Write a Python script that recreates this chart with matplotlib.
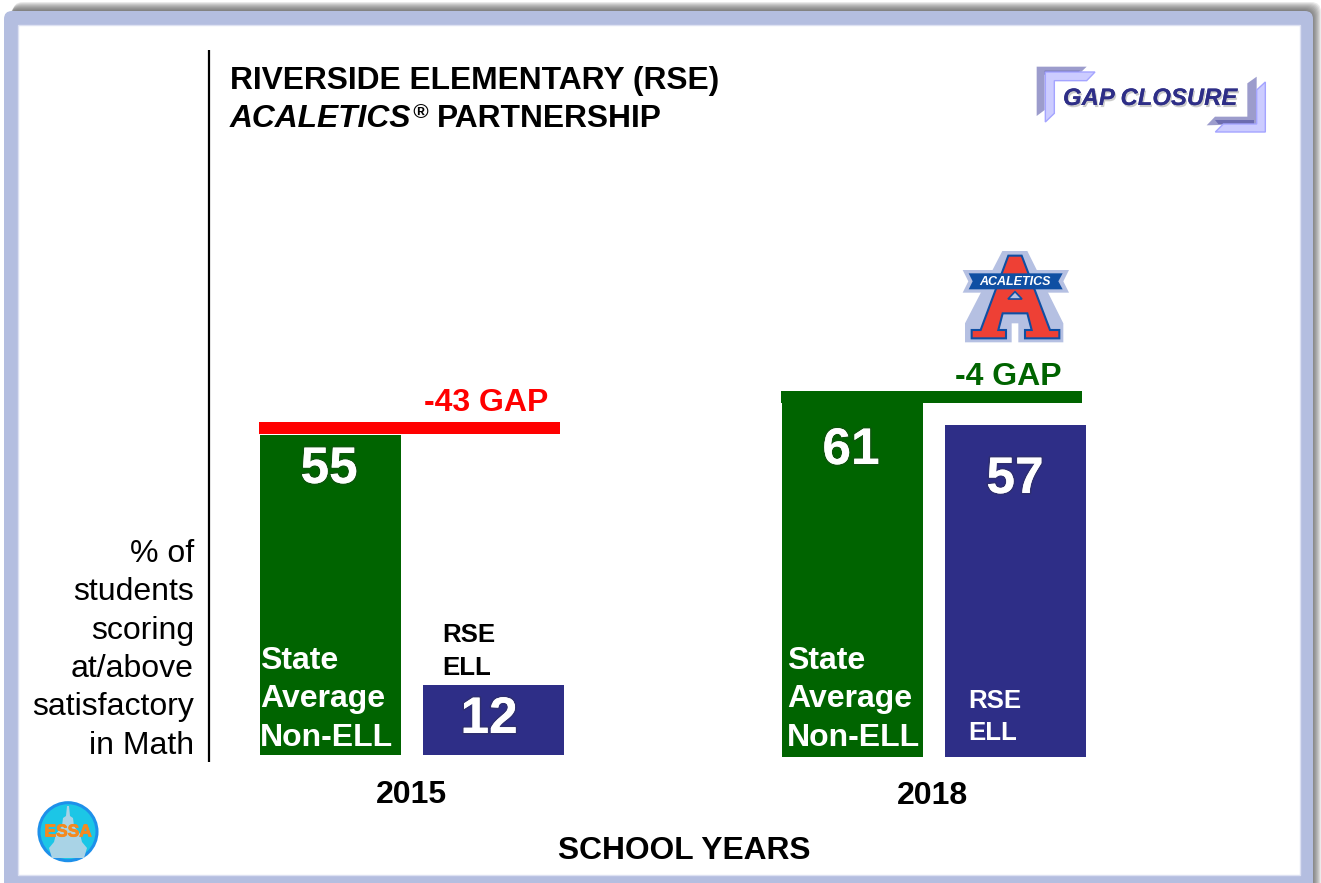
import matplotlib
matplotlib.use("Agg")
import matplotlib.pyplot as plt
from matplotlib.patches import Rectangle, FancyBboxPatch, Polygon, Circle
import matplotlib.patheffects as pe

plt.rcParams['font.family'] = ['Liberation Sans', 'DejaVu Sans']

years = ['2015', '2018']
state_non_ell = [55, 61]
rse_ell = [12, 57]
gaps = ['-43 GAP', '-4 GAP']
gap_colors = ['#FF0000', '#006400']
title_line1 = 'RIVERSIDE ELEMENTARY (RSE)'
ylabel_lines = ['% of', 'students', 'scoring', 'at/above', 'satisfactory', 'in Math']
xlabel = 'SCHOOL YEARS'

W, H = 1321, 883
GREEN, NAVY = '#006400', '#2E2E87'
FRAME = '#B4BEE0'
fig = plt.figure(figsize=(W / 100, H / 100), dpi=100, facecolor='white')

# pixel overlay (background)
bg = fig.add_axes([0, 0, 1, 1], zorder=0)
bg.set_xlim(0, W); bg.set_ylim(H, 0); bg.axis('off')
for i in range(9):
    x0 = 13 - i * 0.6
    bg.add_patch(FancyBboxPatch((x0, 2 + i), (W - i) - x0, 890,
                 boxstyle='round,pad=0,rounding_size=10', fc='#444444', ec='none', alpha=0.11))
bg.add_patch(FancyBboxPatch((4, 11), 1309, 890, boxstyle='round,pad=0,rounding_size=8',
                            fc=FRAME, ec='none'))
bg.add_patch(Rectangle((18, 25), 1282, 850, fc='white', ec='#DDE1F2', lw=1))
bg.plot([209, 209], [50, 762], color='black', lw=1.6, solid_capstyle='butt')


def panel(left, right, base):
    scale = 5.82
    ax = fig.add_axes([left / W, 1 - base / H, (right - left) / W, 100 * scale / H], zorder=1)
    ax.set_xlim(-0.5, 1.5); ax.set_ylim(0, 100); ax.axis('off')
    ax.patch.set_alpha(0)
    return ax


ax15 = panel(249, 575, 755)
ax18 = panel(771, 1097, 757)
for ax, a, b in zip([ax15, ax18], state_non_ell, rse_ell):
    ax.bar([0, 1], [a, b], width=0.865, color=[GREEN, NAVY])

# pixel overlay (foreground)
fg = fig.add_axes([0, 0, 1, 1], zorder=2)
fg.set_xlim(0, W); fg.set_ylim(H, 0); fg.axis('off'); fg.patch.set_alpha(0)


def T(x, y, s, size=23, color='black', weight='bold', ha='left', style='normal', **kw):
    return fg.text(x, y, s, fontsize=size, color=color, fontweight=weight, ha=ha,
                   va='baseline', fontstyle=style, **kw)


T(230, 89, title_line1, size=22.9)
T(230, 127, 'ACALETICS', style='italic', size=22.9)
T(412, 118, '®', size=15, style='italic')
T(437, 127, 'PARTNERSHIP', size=22.9)

for i, line in enumerate(ylabel_lines):
    T(194, 562 + i * 38.3, line, weight='normal', ha='right')

# gap bars
fg.add_patch(Rectangle((259, 422), 301, 12, fc=gap_colors[0], ec='none'))
fg.add_patch(Rectangle((781, 391), 301, 12, fc=gap_colors[1], ec='none'))
T(486, 411, gaps[0], color=gap_colors[0], ha='center')
T(1008, 385, gaps[1], color=gap_colors[1], ha='center')

for x, y, v in [(329, 483, state_non_ell[0]), (851, 464, state_non_ell[1]),
                (489, 733, rse_ell[0]), (1015, 493, rse_ell[1])]:
    t = T(x, y, str(v), size=37, color='white', ha='center')
    t.set_path_effects([pe.withStroke(linewidth=2.5, foreground='#333333', alpha=0.25), pe.Normal()])

for x in (260, 787):
    for y, s in zip((669, 707, 746), ('State', 'Average', 'Non-ELL')):
        T(x, y, s, color='white')
T(442, 642, 'RSE', size=18.6)
T(442, 675, 'ELL', size=18.6)
T(968, 708, 'RSE', size=18.6, color='white')
T(968, 740, 'ELL', size=18.6, color='white')

T(411, 803, years[0], ha='center')
T(933, 804, years[1], ha='center')
T(684, 859, xlabel, size=22.9, ha='center')


def Z(pts):
    return [(940 + x / 3, 50 + y / 3) for x, y in pts]


def poly(pts, fc, ec='none', lw=0, z=3):
    fg.add_patch(Polygon(Z(pts), closed=True, fc=fc, ec=ec, lw=lw, zorder=z, joinstyle='miter'))


# GAP CLOSURE emblem
LAV, LIGHT, EDGE, DARK = '#9C9CCC', '#CCCCFF', '#A4A4FF', '#6C6CB0'
poly([(290, 50), (440, 50), (415, 74), (314, 74), (314, 180), (290, 198)], LAV)
poly([(314, 62), (420, 62), (408, 74), (314, 74)], DARK)
poly([(316, 66), (465, 66), (440, 92), (343, 92), (343, 190), (316, 216)], LIGHT, EDGE, 1)
poly([(950, 80), (950, 222), (800, 226), (825, 200), (922, 200), (922, 100)], LAV)
poly([(942, 210), (942, 222), (835, 222), (825, 210)], DARK)
poly([(976, 96), (976, 246), (826, 246), (850, 222), (950, 222), (950, 120)], LIGHT, EDGE, 1)
t = T(1063, 105, 'GAP CLOSURE', size=17.2, color=NAVY, style='italic', zorder=5)
t.set_path_effects([pe.withSimplePatchShadow(offset=(1, -1.5), shadow_rgbFace='#555555', alpha=0.3), pe.Normal()])

# ACALETICS emblem
AL, BL, RD = '#B5C0E2', '#0F4FA3', '#EE4035'
poly([(187, 603), (262, 603), (370, 820), (370, 877), (235, 877), (235, 820), (215, 820), (215, 877), (75, 877), (75, 820)], AL)
poly([(68, 660), (387, 660), (370, 694), (387, 728), (68, 728), (85, 694)], AL, z=3)
red = [(205, 617), (245, 617), (330, 840), (358, 840), (358, 865), (255, 865), (255, 840), (275, 840),
       (262, 790), (188, 790), (175, 840), (198, 840), (198, 865), (95, 865), (95, 840), (122, 840)]
poly(red, RD, BL, 1.5, z=4)
poly([(225, 725), (246, 747), (204, 747)], AL, BL, 1.2, z=5)
poly([(86, 670), (368, 670), (355, 694), (368, 718), (86, 718), (98, 694)], BL, z=5)
fg.text(940 + 226 / 3, 50 + 695 / 3, 'ACALETICS', fontsize=9, color='white', fontweight='bold',
        fontstyle='italic', ha='center', va='center', zorder=6)

# ESSA emblem
DOME = '#A9D3E6'
fg.add_patch(Circle((68, 831.7), 29, fc='#1CC6E6', ec='#1E90EA', lw=2.2, zorder=3))
fg.add_patch(Polygon([(67, 806), (69, 806), (70, 816), (73, 818), (74, 826), (80, 834), (82, 842), (87, 848),
                      (84, 858), (52, 858), (49, 848), (54, 842), (56, 834), (62, 826), (63, 818), (66, 816)],
                     closed=True, fc=DOME, ec='none', zorder=4))
t = fg.text(68, 832, 'ESSA', fontsize=12.5, color='#F58A1F', fontweight='bold', ha='center', va='center', zorder=5)
t.set_path_effects([pe.withStroke(linewidth=0.6, foreground='#F58A1F')])

fig.savefig('out.png', dpi=100)
